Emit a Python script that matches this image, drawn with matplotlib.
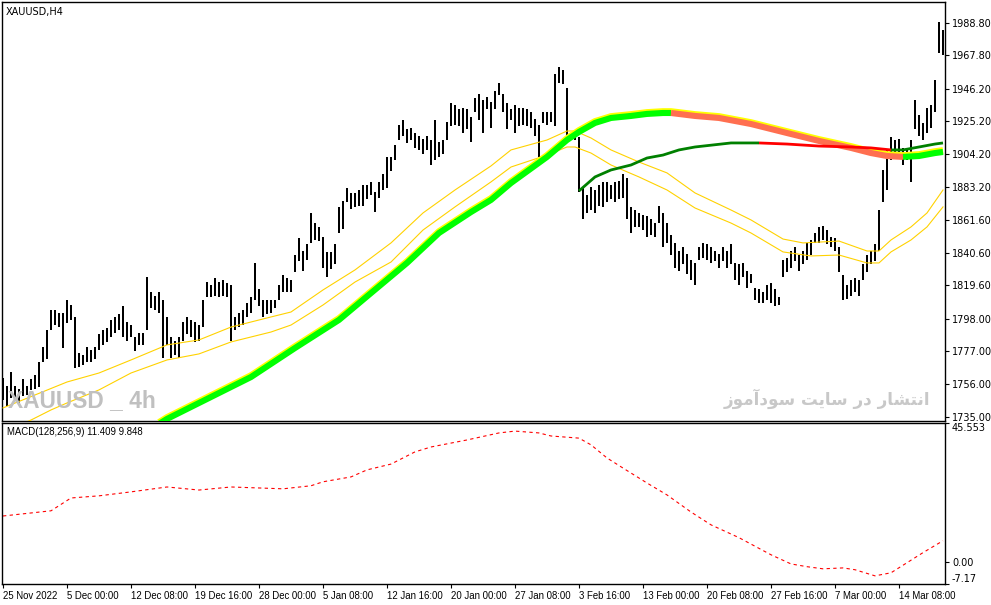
import matplotlib
matplotlib.use("Agg")
import matplotlib.pyplot as plt
from matplotlib.transforms import offset_copy

plt.rcParams['font.family'] = ['DejaVu Sans']

# ---- data (one entry per 2 four-hour bars) ----
bar_high = [1760, 1755, 1764, 1755, 1753, 1759, 1755, 1759, 1762, 1770,
            1780, 1791, 1804, 1804, 1802, 1802, 1810, 1807, 1799, 1776,
            1775, 1780, 1778, 1780, 1788, 1791, 1792, 1797, 1799, 1801,
            1806, 1796, 1794, 1786, 1789, 1789, 1825, 1815, 1813, 1815,
            1810, 1799, 1786, 1784, 1786, 1796, 1799, 1797, 1796, 1794,
            1810, 1822, 1820, 1824, 1822, 1823, 1821, 1820, 1799, 1802,
            1804, 1808, 1812, 1834, 1817, 1810, 1810, 1810, 1810, 1820,
            1826, 1824, 1823, 1839, 1850, 1842, 1846, 1866, 1860, 1857,
            1851, 1841, 1841, 1846, 1870, 1874, 1882, 1879, 1879, 1881,
            1884, 1884, 1886, 1880, 1886, 1891, 1902, 1902, 1910, 1923,
            1926, 1920, 1921, 1918, 1916, 1914, 1916, 1913, 1926, 1912,
            1913, 1925, 1937, 1936, 1933, 1934, 1933, 1928, 1940, 1943,
            1939, 1941, 1938, 1945, 1950, 1943, 1937, 1933, 1936, 1934,
            1934, 1933, 1931, 1927, 1923, 1931, 1931, 1931, 1956, 1960,
            1958, 1947, 1918, 1918, 1915, 1883, 1878, 1883, 1881, 1884,
            1886, 1886, 1884, 1886, 1887, 1891, 1889, 1870, 1868, 1866,
            1865, 1864, 1862, 1860, 1871, 1866, 1860, 1852, 1847, 1842,
            1844, 1840, 1836, 1834, 1844, 1847, 1846, 1844, 1842, 1840,
            1844, 1842, 1846, 1834, 1833, 1834, 1829, 1827, 1818, 1817,
            1815, 1820, 1821, 1817, 1812, 1836, 1837, 1842, 1844, 1839,
            1842, 1847, 1849, 1853, 1857, 1858, 1855, 1851, 1850, 1844,
            1826, 1820, 1823, 1824, 1823, 1833, 1839, 1842, 1846, 1868,
            1894, 1907, 1915, 1913, 1914, 1908, 1908, 1913, 1939, 1929,
            1924, 1934, 1936, 1952, 1989, 1984]
bar_low = [1746, 1742, 1747, 1746, 1744, 1748, 1749, 1752, 1753, 1754,
           1770, 1772, 1791, 1794, 1793, 1779, 1795, 1797, 1766, 1767,
           1768, 1770, 1770, 1772, 1778, 1781, 1783, 1786, 1789, 1791,
           1786, 1784, 1786, 1777, 1781, 1781, 1791, 1805, 1804, 1802,
           1773, 1781, 1773, 1775, 1773, 1784, 1788, 1786, 1783, 1784,
           1793, 1812, 1812, 1813, 1812, 1813, 1812, 1784, 1791, 1793,
           1794, 1799, 1802, 1810, 1806, 1799, 1801, 1802, 1805, 1810,
           1815, 1815, 1815, 1828, 1835, 1829, 1836, 1847, 1849, 1848,
           1831, 1825, 1830, 1833, 1853, 1856, 1873, 1869, 1870, 1871,
           1871, 1875, 1878, 1867, 1876, 1881, 1882, 1893, 1900, 1913,
           1916, 1911, 1913, 1908, 1907, 1904, 1907, 1897, 1900, 1902,
           1904, 1913, 1922, 1923, 1922, 1918, 1920, 1912, 1931, 1926,
           1918, 1933, 1921, 1933, 1942, 1931, 1920, 1926, 1918, 1922,
           1923, 1922, 1921, 1916, 1902, 1924, 1923, 1925, 1922, 1950,
           1949, 1914, 1913, 1913, 1880, 1862, 1866, 1868, 1866, 1871,
           1870, 1873, 1875, 1873, 1875, 1876, 1862, 1853, 1857, 1857,
           1855, 1851, 1852, 1851, 1860, 1844, 1847, 1839, 1831, 1829,
           1833, 1827, 1823, 1820, 1836, 1837, 1836, 1834, 1835, 1831,
           1835, 1831, 1833, 1823, 1820, 1825, 1818, 1821, 1810, 1808,
           1808, 1810, 1808, 1806, 1807, 1825, 1828, 1831, 1835, 1829,
           1833, 1836, 1839, 1847, 1847, 1849, 1846, 1844, 1842, 1828,
           1810, 1811, 1813, 1815, 1813, 1823, 1828, 1833, 1835, 1842,
           1873, 1881, 1900, 1902, 1904, 1897, 1900, 1886, 1920, 1916,
           1913, 1918, 1921, 1931, 1969, 1968]

# upper and lower yellow moving averages (bar index, price)
ma_up_idx = [0, 16, 24, 32, 41, 49, 57, 67, 72, 80, 88, 97, 105, 113, 122, 127,
             136, 141, 143, 147, 152, 159, 166, 173, 182, 187, 195, 200, 209,
             216, 219, 222, 227, 231, 235]
ma_up_val = [1740.6, 1757.3, 1763.1, 1771.5, 1781.2, 1784.4, 1792.7, 1799.2,
             1802.4, 1816.6, 1829.5, 1846.9, 1866.2, 1881.0, 1896.5, 1906.8,
             1913.2, 1919.0, 1919.0, 1914.5, 1906.8, 1899.0, 1892.0, 1879.1,
             1868.1, 1861.7, 1849.4, 1846.9, 1848.1, 1841.7, 1841.7, 1848.8,
             1857.2, 1866.2, 1881.0]
ma_lo_idx = [0, 7, 12, 16, 24, 32, 41, 49, 57, 62, 67, 72, 80, 88, 97, 105, 113,
             122, 127, 136, 141, 143, 147, 152, 159, 166, 173, 182, 187, 195,
             202, 209, 216, 219, 222, 227, 231, 235]
ma_lo_val = [1725.1, 1732.8, 1739.3, 1743.8, 1752.2, 1763.1, 1771.5, 1775.4,
             1783.1, 1786.3, 1789.5, 1794.0, 1806.9, 1821.7, 1834.6, 1855.2,
             1870.1, 1886.2, 1895.8, 1903.5, 1908.7, 1908.7, 1904.8, 1897.1,
             1889.4, 1881.0, 1869.4, 1859.7, 1853.3, 1841.1, 1838.5, 1839.1,
             1834.0, 1834.0, 1841.1, 1848.8, 1857.2, 1870.1]

# slow trend line (thick, green rising / salmon falling)
trend_idx = [39, 41, 62, 73, 84, 92, 101, 109, 117, 122, 127, 136, 141, 144, 148,
             152, 157, 161, 165, 167, 173, 179, 187, 196, 204, 212, 217, 221,
             225, 229, 233, 235]
trend_val = [1730.3, 1733.5, 1760.5, 1779.2, 1797.3, 1814.6, 1834.0, 1853.3,
             1866.8, 1874.6, 1885.5, 1902.3, 1913.2, 1918.4, 1924.2, 1927.4,
             1928.7, 1930.0, 1930.6, 1930.6, 1928.7, 1927.4, 1923.5, 1917.7,
             1912.6, 1908.1, 1904.8, 1902.9, 1902.3, 1902.9, 1904.8, 1905.5]

# second trend line (dark green rising / red falling)
trend2_idx = [144, 148, 152, 157, 161, 165, 169, 173, 182, 187, 189, 196, 204,
              212, 217, 222, 225, 229, 233, 235]
trend2_val = [1880.4, 1889.4, 1893.9, 1897.1, 1901.6, 1903.5, 1906.8, 1908.7,
              1911.3, 1911.3, 1911.3, 1910.6, 1909.3, 1908.7, 1908.1, 1906.8,
              1906.8, 1908.7, 1910.6, 1911.3]

# MACD signal line
macd_idx = [0, 12, 17, 24, 32, 41, 49, 57, 70, 77, 80, 87, 91, 97, 103, 107, 116,
            124, 128, 134, 137, 144, 147, 151, 155, 161, 166, 172, 177, 184, 192,
            197, 201, 205, 210, 213, 218, 222, 226, 230, 235]
macd_val = [15.1, 16.8, 21.0, 21.7, 23.0, 24.6, 23.6, 24.6, 24.0, 25.0, 26.3,
            27.9, 30.2, 32.1, 36.1, 37.7, 40.0, 42.3, 42.9, 42.3, 41.3, 40.6,
            38.4, 34.1, 30.8, 25.9, 22.0, 16.4, 12.2, 8.0, 2.4, -0.6, -1.5,
            -2.2, -1.9, -2.5, -4.5, -3.5, -0.2, 3.1, 7.0]

price_ticks = [1988.80, 1967.80, 1946.20, 1925.20, 1904.20, 1883.20, 1861.60,
               1840.60, 1819.60, 1798.00, 1777.00, 1756.00, 1735.00]
macd_ticks = [45.553, 0.0, -7.17]
macd_tick_labels = ['45.553', '0.00', '-7.17']
date_idx = [0, 16, 32, 48, 64, 80, 96, 112, 128, 144, 160, 176, 192, 208, 224]
date_labels = ['25 Nov 2022', '5 Dec 00:00', '12 Dec 08:00', '19 Dec 16:00',
               '28 Dec 00:00', '5 Jan 08:00', '12 Jan 16:00', '20 Jan 00:00',
               '27 Jan 08:00', '3 Feb 16:00', '13 Feb 00:00', '20 Feb 08:00',
               '27 Feb 16:00', '7 Mar 00:00', '14 Mar 08:00']

persian_note = 'انتشار در سایت سودآموز'

NARROW = ['Liberation Sans', 'DejaVu Sans']

# matplotlib does no arabic shaping, so pick the presentation forms by hand
FORMS = {  # isolated, final, initial, medial
    'ا': ('\ufe8d', '\ufe8e', None, None),
    'آ': ('\ufe81', '\ufe82', None, None),
    'ر': ('\ufead', '\ufeae', None, None),
    'ز': ('\ufeaf', '\ufeb0', None, None),
    'د': ('\ufea9', '\ufeaa', None, None),
    'و': ('\ufeed', '\ufeee', None, None),
    'ن': ('\ufee5', '\ufee6', '\ufee7', '\ufee8'),
    'ت': ('\ufe95', '\ufe96', '\ufe97', '\ufe98'),
    'ش': ('\ufeb5', '\ufeb6', '\ufeb7', '\ufeb8'),
    'س': ('\ufeb1', '\ufeb2', '\ufeb3', '\ufeb4'),
    'م': ('\ufee1', '\ufee2', '\ufee3', '\ufee4'),
    'ی': ('\ufeef', '\ufef0', '\ufef3', '\ufef4'),
}


def shape_rtl(text):
    out = []
    for i, ch in enumerate(text):
        if ch not in FORMS:
            out.append(ch)
            continue
        prev = text[i - 1] if i > 0 else ' '
        nxt = text[i + 1] if i + 1 < len(text) else ' '
        join_prev = prev in FORMS and FORMS[prev][2] is not None
        join_next = nxt in FORMS and FORMS[ch][2] is not None
        iso, fin, ini, med = FORMS[ch]
        if join_prev and join_next:
            out.append(med)
        elif join_prev:
            out.append(fin)
        elif join_next:
            out.append(ini)
        else:
            out.append(iso)
    return ''.join(reversed(out))


def draw_two_colour(ax, xs, ys, up, down, **kw):
    # colour each stretch by whether the line is rising or falling
    start = 0
    cur = up if ys[1] >= ys[0] else down
    for i in range(1, len(xs) - 1):
        c = up if ys[i + 1] >= ys[i] else down
        if c != cur:
            ax.plot(xs[start:i + 1], ys[start:i + 1], color=cur, **kw)
            start, cur = i, c
    ax.plot(xs[start:], ys[start:], color=cur, **kw)


W, H = 991, 605
fig = plt.figure(figsize=(W / 100, H / 100), dpi=100)
renderer = fig.canvas.get_renderer()


def fit_width(t, target_px):
    # shrink/grow a text so it is as wide as in the screenshot
    w = t.get_window_extent(renderer=renderer).width
    t.set_fontsize(t.get_fontsize() * target_px / w)
    return t.get_fontsize()


ax = fig.add_axes([2 / W, 1 - 420.5 / H, 943 / W, 418.5 / H])
mx = fig.add_axes([2 / W, 1 - 584 / H, 943 / W, 161 / H])

idx = list(range(len(bar_high)))
ax.vlines(idx, bar_low, bar_high, color='black', linewidth=1.4, antialiased=False, zorder=3)

ax.plot(ma_up_idx, ma_up_val, color='#FFD200', lw=0.8, zorder=4)
ax.plot(ma_lo_idx, ma_lo_val, color='#FFD200', lw=0.8, zorder=4)

edge = offset_copy(ax.transData, fig=fig, x=0, y=1.5, units='dots')
ax.plot(trend_idx, trend_val, color='#FFFF00', lw=4.8, transform=edge,
        solid_capstyle='butt', zorder=5)
draw_two_colour(ax, trend_idx, trend_val, '#00FF00', '#FF6F50', lw=4.4,
                solid_capstyle='butt', solid_joinstyle='round', zorder=6)
draw_two_colour(ax, trend2_idx, trend2_val, '#008000', '#FF0000', lw=2.0,
                solid_capstyle='butt', zorder=6)

ax.set_xlim(-0.25, 235.5)
ax.set_ylim(1732.5, 2002.1)
ax.set_xticks([])
ax.yaxis.tick_right()
ax.set_yticks(price_ticks)
ax.set_yticklabels([f'{v:.2f}' for v in price_ticks])

mx.plot(macd_idx, macd_val, color='#FF0000', lw=0.8, linestyle=(0, (3, 3)))
mx.set_xlim(-0.25, 235.5)
mx.set_ylim(-7.17, 45.553)
mx.yaxis.tick_right()
mx.set_yticks(macd_ticks)
mx.set_yticklabels(macd_tick_labels)
ylabs = mx.get_yticklabels()
ylabs[0].set_verticalalignment('top')
ylabs[2].set_verticalalignment('bottom')

# date labels are narrow in the original; size them to the same width
probe = fig.text(0, 0, '12 Dec 08:00', fontsize=7, family=NARROW)
date_fs = fit_width(probe, 57)
probe.remove()
mx.set_xticks(date_idx)
mx.set_xticklabels(date_labels, ha='left', family=NARROW)

for a in (ax, mx):
    a.tick_params(axis='both', direction='out', length=3, width=0.8,
                  labelsize=7, pad=2, colors='black')
    for s in a.spines.values():
        s.set_linewidth(1.0)
        s.set_color('black')
mx.tick_params(axis='x', labelsize=date_fs)

fig.text(6 / W, 1 - 12 / H, 'XAUUSD,H4', fontsize=7, va='center', ha='left')
t = fig.text(7 / W, 1 - 432 / H, 'MACD(128,256,9) 11.409 9.848', fontsize=7,
             va='center', ha='left', family=NARROW)
fit_width(t, 136)
t = fig.text(8 / W, 1 - 401 / H, 'XAUUSD _ 4h', fontsize=20, fontweight='bold',
             color='#C0C0C0', va='center', ha='left', family=NARROW, zorder=10)
fit_width(t, 148)
t = fig.text(930 / W, 1 - 399 / H, shape_rtl(persian_note), fontsize=13,
             fontweight='bold', color='#C8C8C8', va='center', ha='right',
             family=['DejaVu Sans'], zorder=10)
fit_width(t, 205)

fig.savefig('out.png', dpi=100, facecolor='white')
